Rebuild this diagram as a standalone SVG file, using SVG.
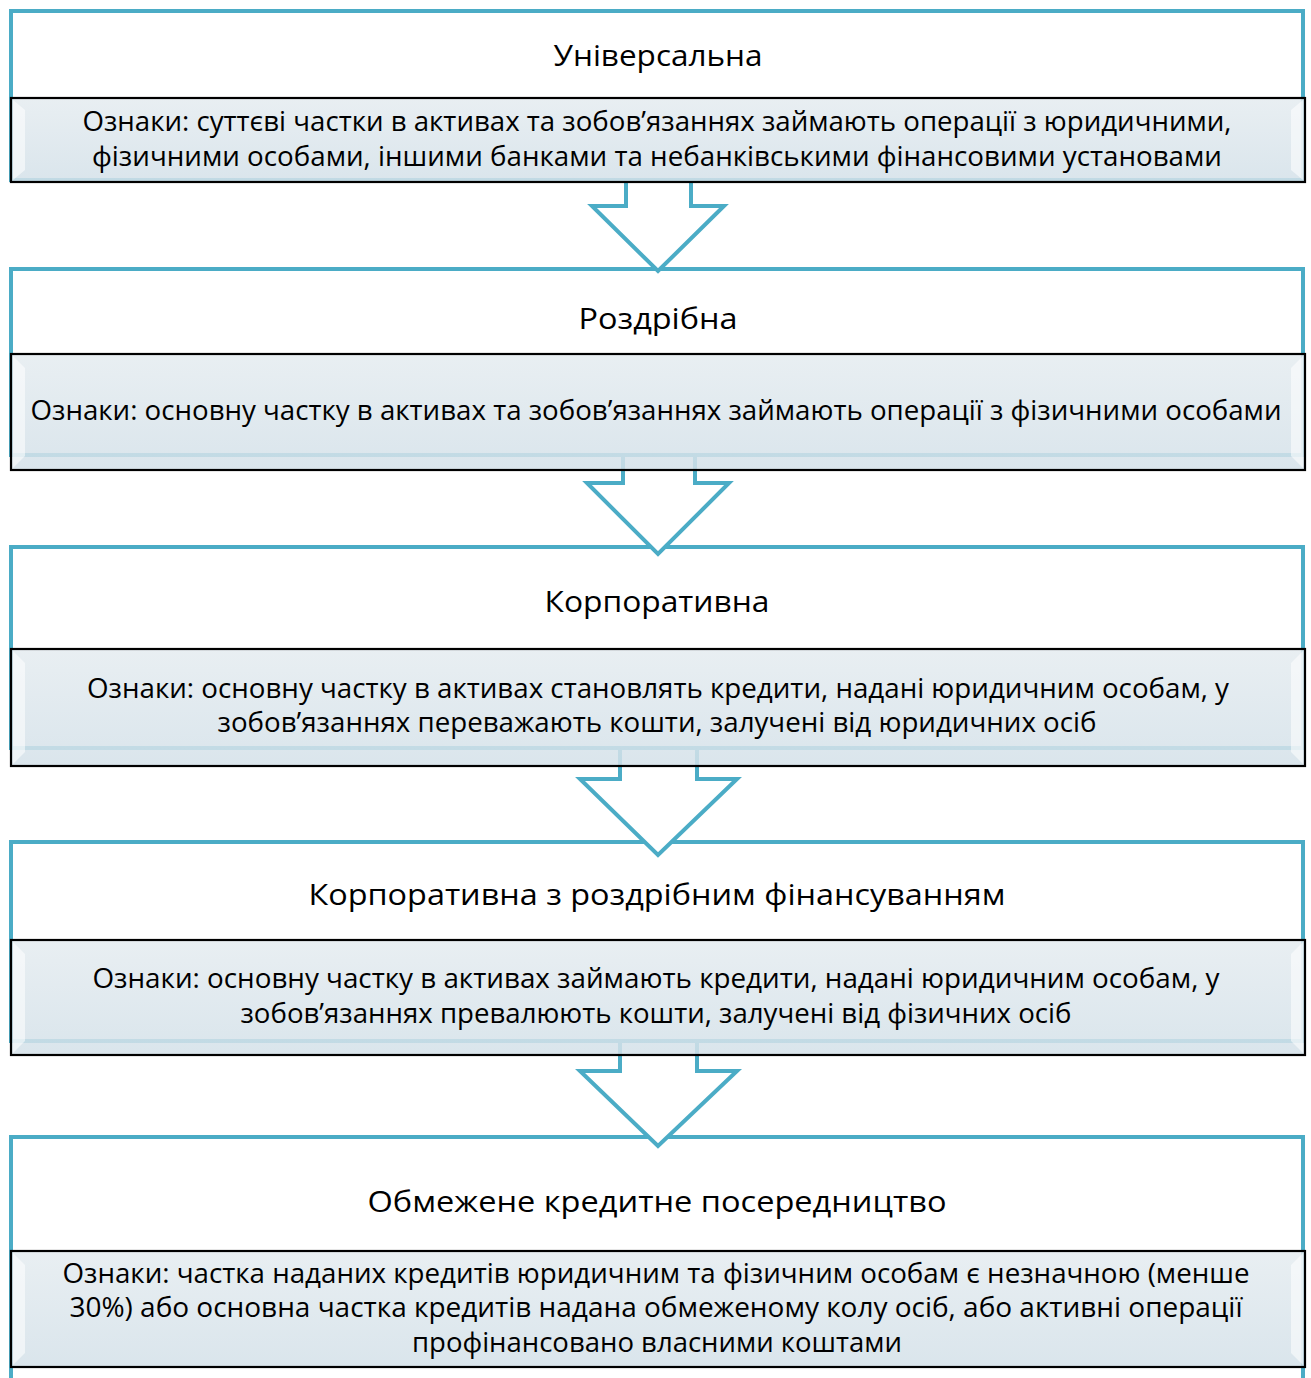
<svg xmlns="http://www.w3.org/2000/svg" width="1311" height="1378" viewBox="0 0 1311 1378">
<style>
.outer{fill:#ffffff;stroke:#4bacc6;stroke-width:4}
.arrow{fill:#ffffff;stroke:#4bacc6;stroke-width:4;stroke-linejoin:miter}
.inner{fill:url(#g);fill-opacity:0.86;stroke:#000000;stroke-width:2.2}
.bevel{fill:#ffffff;fill-opacity:0.55}
.title{font-family:"Open Sans","Noto Sans","DejaVu Sans",sans-serif;font-size:29px;fill:#000;text-anchor:middle}
.body{font-family:"Open Sans","Noto Sans","DejaVu Sans",sans-serif;font-size:26.5px;fill:#000;text-anchor:middle}
</style>
<defs>
<linearGradient id="g" x1="0" y1="0" x2="0" y2="1">
<stop offset="0" stop-color="#e5ecf0"/>
<stop offset="1" stop-color="#d4e1e9"/>
</linearGradient>
</defs>
<rect width="1311" height="1378" fill="#ffffff"/>
<g id="frames">
<rect class="outer" x="11" y="11" width="1292" height="169"/>
<rect class="outer" x="11" y="269" width="1292" height="186"/>
<rect class="outer" x="11" y="547" width="1292" height="201"/>
<rect class="outer" x="11" y="842" width="1292" height="199"/>
<rect class="outer" x="11" y="1137" width="1292" height="250"/>
</g>
<g id="connectors">
<polygon class="arrow" points="626,180 691,180 691,206 724,206 658,271 592,206 626,206"/>
<polygon class="arrow" points="623,455 695,455 695,483 729,483 658,554 587,483 623,483"/>
<polygon class="arrow" points="620,748 697,748 697,779 737,779 658,855 580,779 620,779"/>
<polygon class="arrow" points="620,1041 697,1041 697,1071 737,1071 658,1146 580,1071 620,1071"/>
</g>
<g id="node1">
<rect class="inner" x="11" y="98" width="1294" height="84"/>
<polygon class="bevel" points="13,100 25,110 25,170 13,180"/>
<polygon class="bevel" points="1303,100 1291,110 1291,170 1303,180"/>
<text class="title" x="658" y="66" textLength="209" lengthAdjust="spacingAndGlyphs">Універсальна</text>
<text class="body" x="657" y="131" textLength="1149" lengthAdjust="spacingAndGlyphs">Ознаки: суттєві частки в активах та зобов’язаннях займають операції з юридичними,</text>
<text class="body" x="657" y="166" textLength="1130" lengthAdjust="spacingAndGlyphs">фізичними особами, іншими банками та небанківськими фінансовими установами</text>
</g>
<g id="node2">
<rect class="inner" x="11" y="354" width="1294" height="116"/>
<polygon class="bevel" points="13,356 25,368 25,456 13,468"/>
<polygon class="bevel" points="1303,356 1291,368 1291,456 1303,468"/>
<text class="title" x="658" y="329" textLength="159" lengthAdjust="spacingAndGlyphs">Роздрібна</text>
<text class="body" x="656" y="420" textLength="1251" lengthAdjust="spacingAndGlyphs">Ознаки: основну частку в активах та зобов’язаннях займають операції з фізичними особами</text>
</g>
<g id="node3">
<rect class="inner" x="11" y="649" width="1294" height="117"/>
<polygon class="bevel" points="13,651 25,663 25,752 13,764"/>
<polygon class="bevel" points="1303,651 1291,663 1291,752 1303,764"/>
<text class="title" x="657" y="612" textLength="225" lengthAdjust="spacingAndGlyphs">Корпоративна</text>
<text class="body" x="658" y="698" textLength="1142" lengthAdjust="spacingAndGlyphs">Ознаки: основну частку в активах становлять кредити, надані юридичним особам, у</text>
<text class="body" x="657" y="732" textLength="879" lengthAdjust="spacingAndGlyphs">зобов’язаннях переважають кошти, залучені від юридичних осіб</text>
</g>
<g id="node4">
<rect class="inner" x="11" y="940" width="1294" height="115"/>
<polygon class="bevel" points="13,942 25,954 25,1041 13,1053"/>
<polygon class="bevel" points="1303,942 1291,954 1291,1041 1303,1053"/>
<text class="title" x="657" y="905" textLength="697" lengthAdjust="spacingAndGlyphs">Корпоративна з роздрібним фінансуванням</text>
<text class="body" x="656" y="988" textLength="1127" lengthAdjust="spacingAndGlyphs">Ознаки: основну частку в активах займають кредити, надані юридичним особам, у</text>
<text class="body" x="656" y="1023" textLength="831" lengthAdjust="spacingAndGlyphs">зобов’язаннях превалюють кошти, залучені від фізичних осіб</text>
</g>
<g id="node5">
<rect class="inner" x="11" y="1251" width="1294" height="116"/>
<polygon class="bevel" points="13,1253 25,1265 25,1353 13,1365"/>
<polygon class="bevel" points="1303,1253 1291,1265 1291,1353 1303,1365"/>
<text class="title" x="657" y="1212" textLength="579" lengthAdjust="spacingAndGlyphs">Обмежене кредитне посередництво</text>
<text class="body" x="656" y="1283" textLength="1187" lengthAdjust="spacingAndGlyphs">Ознаки: частка наданих кредитів юридичним та фізичним особам є незначною (менше</text>
<text class="body" x="656" y="1317" textLength="1173" lengthAdjust="spacingAndGlyphs">30%) або основна частка кредитів надана обмеженому колу осіб, або активні операції</text>
<text class="body" x="657" y="1352" textLength="490" lengthAdjust="spacingAndGlyphs">профінансовано власними коштами</text>
</g>
</svg>
